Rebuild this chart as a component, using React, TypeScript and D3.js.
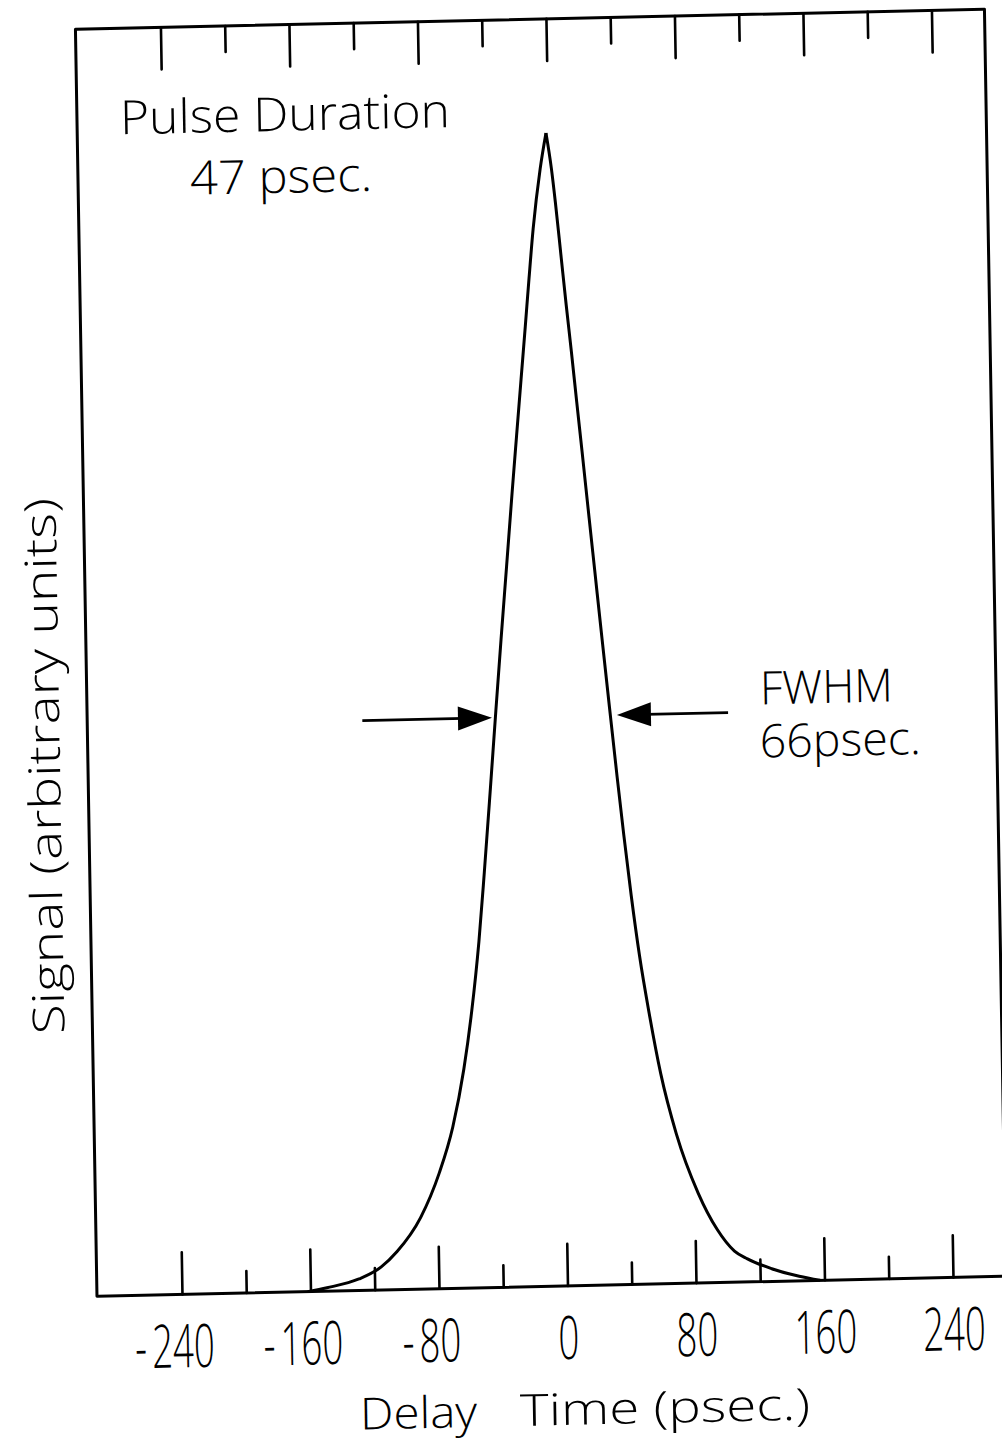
import * as d3 from 'd3';

// delay axis (psec.)
const delayTicks = [-240, -200, -160, -120, -80, -40, 0, 40, 80, 120, 160, 200, 240];
const delayLabels = [-240, -160, -80, 0, 80, 160, 240];

// rising edge of the trace (delay, signal normalised to peak)
const riseDelay = [-162, -150, -130, -116, -106, -91, -79, -70, -62.5, -57, -51.8, -47.7, -43.2, -38.8, -34.8, -30.6, -26.3, -23, -19.6, -16.4, -13.6, -10.5, -5.5, -1.5];
const riseSignal = [0, 0.003, 0.01, 0.02, 0.033, 0.062, 0.1, 0.14, 0.19, 0.24, 0.3, 0.36, 0.43, 0.5, 0.562, 0.625, 0.69, 0.738, 0.787, 0.833, 0.874, 0.917, 0.969, 1.0];

// falling edge
const fallDelay = [-1.5, 1.5, 3.6, 6.7, 9.3, 12, 14.8, 17.6, 21.3, 24.2, 28, 32, 36, 39.5, 43.5, 48, 53.5, 60, 69, 82, 93.5, 104, 112, 127, 144, 157];
const fallSignal = [1.0, 0.969, 0.94, 0.891, 0.85, 0.81, 0.766, 0.723, 0.665, 0.62, 0.561, 0.5, 0.44, 0.39, 0.337, 0.285, 0.234, 0.182, 0.13, 0.078, 0.046, 0.027, 0.02, 0.011, 0.004, 0];

// FWHM arrows: [tail, tip] in psec., at the half-height level
const fwhmLevel = 0.494;
const arrowIn = [-122, -41.3];
const arrowOut = [105.7, 36.5];

const FONT = "'Open Sans', 'DejaVu Sans', sans-serif";

export default function App() {
  const width = 1002;
  const height = 1444;
  const frame = { left: 97, right: 1006, top: 20, bottom: 1287 };

  const x = d3.scaleLinear().domain([-240, 240]).range([182.5, 953.5]);
  const y = d3.scaleLinear().domain([0, 1]).range([frame.bottom, 134]);

  const line = d3
    .line<[number, number]>()
    .x((d) => x(d[0]))
    .y((d) => y(d[1]))
    .curve(d3.curveMonotoneX);

  const rise = riseDelay.map((t, i) => [t, riseSignal[i]] as [number, number]);
  const fall = fallDelay.map((t, i) => [t, fallSignal[i]] as [number, number]);

  const isMajor = (v: number) => (v + 240) % 80 === 0;

  // the scanned sheet sits slightly rotated / sheared
  const sheet = 'matrix(1,-0.022,0.017,1,-21.9,11.4)';

  const arrow = (pair: number[], key: string) => {
    const [tail, tip] = pair;
    const yy = y(fwhmLevel);
    const x0 = x(tail);
    const x1 = x(tip);
    const dir = x1 > x0 ? 1 : -1;
    const head = 34;
    return (
      <g key={key}>
        <line x1={x0} y1={yy} x2={x1 - dir * head * 0.5} y2={yy} stroke="#000" strokeWidth={2.6} />
        <polygon
          points={`${x1},${yy} ${x1 - dir * head},${yy - 12} ${x1 - dir * head},${yy + 12}`}
          fill="#000"
        />
      </g>
    );
  };

  const labelScale = 0.61;
  const labelSize = 60;
  const digitAdvance = 0.572 * labelSize * labelScale;

  return (
    <svg
      width={width}
      height={height}
      style={{ position: 'absolute', left: 0, top: 0, display: 'block', background: '#fff' }}
    >
      <rect width={width} height={height} fill="#fff" />
      <g transform={sheet}>
        {/* frame */}
        <path
          d={`M${frame.left},${frame.top}H${frame.right}V${frame.bottom}H${frame.left}Z`}
          fill="none"
          stroke="#000"
          strokeWidth={3}
          strokeLinejoin="round"
        />

        {/* ticks, top and bottom */}
        {delayTicks.map((v) => (
          <g key={v}>
            <line
              x1={x(v)}
              x2={x(v)}
              y1={frame.top}
              y2={frame.top + (isMajor(v) ? 42 : 26)}
              stroke="#000"
              strokeWidth={2.6}
              strokeLinecap="round"
            />
            <line
              x1={x(v)}
              x2={x(v)}
              y1={frame.bottom}
              y2={frame.bottom - (isMajor(v) ? 42 : 22)}
              stroke="#000"
              strokeWidth={2.6}
              strokeLinecap="round"
            />
          </g>
        ))}

        {/* tick labels */}
        {delayLabels.map((v) => {
          const digits = String(Math.abs(v));
          const half = (digits.length * digitAdvance) / 2;
          return (
            <g key={v} transform={`translate(${x(v)},1360) scale(${labelScale},1)`}>
              <text textAnchor="middle" fontFamily={FONT} fontSize={labelSize} fontWeight={300} fill="#000">
                {digits}
              </text>
              {v < 0 && (
                <text
                  x={-(half + 5) / labelScale}
                  textAnchor="end"
                  fontFamily={FONT}
                  fontSize={labelSize}
                  fontWeight={300}
                  fill="#000"
                >
                  -
                </text>
              )}
            </g>
          );
        })}

        {/* trace */}
        <path d={line(rise) ?? ''} fill="none" stroke="#000" strokeWidth={3} strokeLinejoin="round" />
        <path d={line(fall) ?? ''} fill="none" stroke="#000" strokeWidth={3} strokeLinejoin="round" />

        {/* FWHM arrows */}
        {arrow(arrowIn, 'in')}
        {arrow(arrowOut, 'out')}

        {/* annotations */}
        <text x={140} y={126} fontFamily={FONT} fontSize={47} fontWeight={300} textLength={330} lengthAdjust="spacingAndGlyphs">
          Pulse Duration
        </text>
        <text x={209} y={188} fontFamily={FONT} fontSize={47} fontWeight={300} textLength={182} lengthAdjust="spacingAndGlyphs">
          47 psec.
        </text>
        <text x={770} y={710} fontFamily={FONT} fontSize={46} fontWeight={300} textLength={133} lengthAdjust="spacingAndGlyphs">
          FWHM
        </text>
        <text x={769} y={763} fontFamily={FONT} fontSize={46} fontWeight={300} textLength={161} lengthAdjust="spacingAndGlyphs">
          66psec.
        </text>

        {/* axis titles */}
        <text
          transform="translate(69,756) rotate(-90)"
          textAnchor="middle"
          fontFamily={FONT}
          fontSize={44}
          fontWeight={300}
          textLength={536}
          lengthAdjust="spacingAndGlyphs"
        >
          Signal (arbitrary units)
        </text>
        <text x={358} y={1426} fontFamily={FONT} fontSize={44} fontWeight={300} textLength={117} lengthAdjust="spacingAndGlyphs">
          Delay
        </text>
        <text x={518} y={1426} fontFamily={FONT} fontSize={44} fontWeight={300} textLength={290} lengthAdjust="spacingAndGlyphs">
          Time (psec.)
        </text>
      </g>
    </svg>
  );
}
